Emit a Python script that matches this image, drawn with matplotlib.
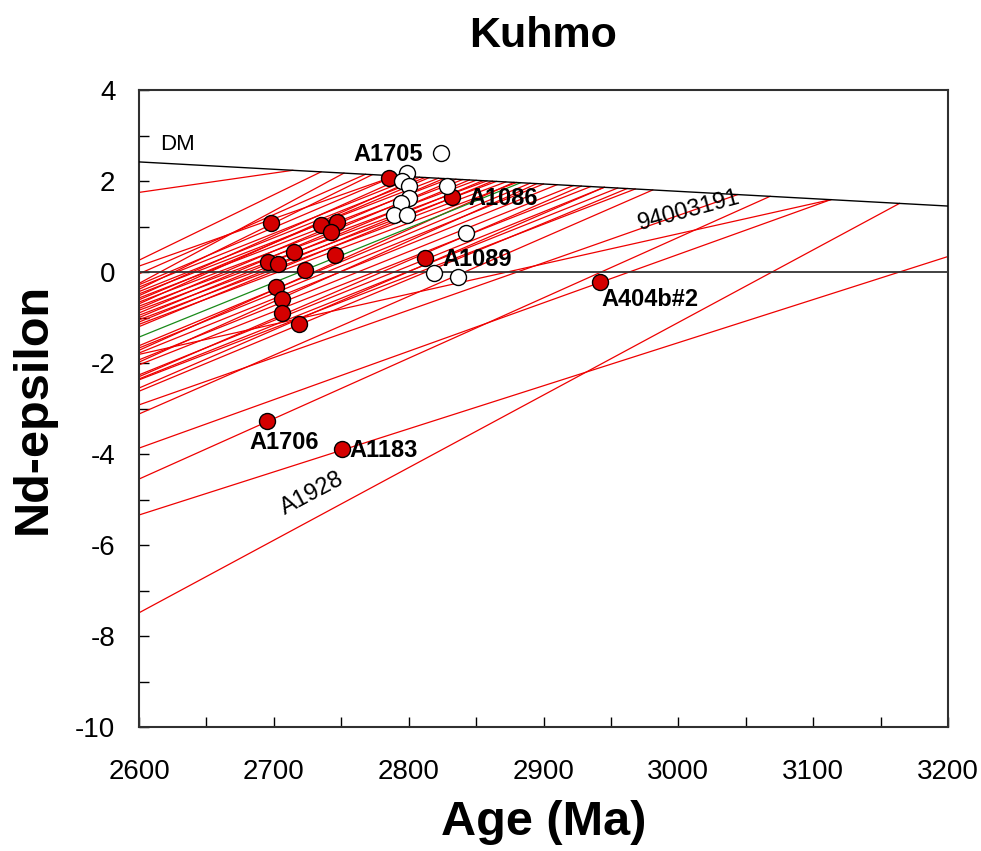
import numpy as np
import matplotlib
matplotlib.use('Agg')
import matplotlib.pyplot as plt
from matplotlib.ticker import MultipleLocator

plt.rcParams['font.family'] = ['Liberation Sans', 'DejaVu Sans']
plt.rcParams['axes.unicode_minus'] = False

# depleted mantle reference line
dm_age = [2600, 3200]
dm_eps = [2.42, 1.45]

# evolution lines: epsilon at 2600 Ma and model age where they meet DM
line_e0 = [1.75, 0.26, 0.13, -0.04, -0.25, -0.28, -0.33, -0.38, -0.43, -0.48,
           -0.52, -0.57, -0.61, -0.66, -0.70, -0.75, -0.80, -0.84, -0.90, -0.95,
           -1.00, -1.05, -1.10, -1.15, -1.20, -1.62, -1.67, -1.72, -1.78, -1.81,
           -1.93, -1.98, -2.04, -2.26, -2.30, -2.35, -2.37, -2.55, -2.62, -2.92,
           -3.12, -3.87, -4.55, -5.34, -7.49]
line_tdm = [2714, 2735, 2790, 2768, 2752, 2790, 2805, 2773, 2812, 2822,
            2798, 2830, 2815, 2840, 2808, 2850, 2826, 2858, 2835, 2865,
            2845, 2872, 2855, 2880, 2862, 2890, 2900, 2878, 2910, 3113,
            2922, 2895, 2935, 2945, 2928, 2955, 2968, 2945, 2962, 3044,
            2981, 3113, 3068, 3300, 3164]
# single green line
green_e0 = -1.43
green_tdm = 2883

# samples
red_age = [2785.4, 2832.4, 2697.8, 2734.8, 2747.2, 2742.2, 2715.0, 2745.2, 2695.3, 2703.2,
           2723.0, 2811.9, 2701.5, 2706.0, 2705.7, 2718.3, 2942.0, 2695.0, 2750.5]
red_eps = [2.07, 1.64, 1.08, 1.03, 1.11, 0.89, 0.45, 0.37, 0.23, 0.18,
           0.04, 0.30, -0.34, -0.59, -0.89, -1.15, -0.22, -3.28, -3.88]
white_age = [2823.7, 2798.5, 2795.3, 2800.2, 2828.6, 2800.2, 2794.0, 2789.1, 2799.0,
             2842.2, 2818.8, 2836.6]
white_eps = [2.62, 2.18, 2.01, 1.88, 1.88, 1.62, 1.52, 1.25, 1.25, 0.85, -0.03, -0.12]

labels = ['A1705', 'A1086', 'A1089', 'A404b#2', 'A1706', 'A1183']
label_age = [2784.7, 2870.4, 2850.6, 2978.8, 2707.8, 2781.5]
label_eps = [2.59, 1.62, 0.27, -0.60, -3.74, -3.92]


def dm(t):
    return dm_eps[0] + (dm_eps[1] - dm_eps[0]) * (t - dm_age[0]) / (dm_age[1] - dm_age[0])


fig = plt.figure(figsize=(9.81, 8.51), dpi=100)
ax = fig.add_axes([0.1417, 0.1457, 0.8247, 0.7485])

for e0, t1 in zip(line_e0, line_tdm):
    ax.plot([2600, t1], [e0, dm(t1)], color='#ee0000', lw=0.9, zorder=2)

ax.plot([2600, green_tdm], [green_e0, dm(green_tdm)], color='#1a8a1a', lw=0.9, zorder=2)

ax.plot(dm_age, dm_eps, color='black', lw=1.0, zorder=3)
ax.axhline(0, color='#333333', lw=1.3, zorder=3)

ax.plot(red_age, red_eps, 'o', ms=11.5, mfc='#d40000', mec='black', mew=1.0, zorder=4)
ax.plot(white_age, white_eps, 'o', ms=11.5, mfc='white', mec='black', mew=1.0, zorder=5)

for s, a, e in zip(labels, label_age, label_eps):
    ax.text(a, e, s, fontsize=17, fontweight='bold', ha='center', va='center', zorder=6)

ax.text(2628.7, 2.8, 'DM', fontsize=16, ha='center', va='center')
ax.text(3007.7, 1.36, '94003191', fontsize=17, ha='center', va='center', rotation=15)
ax.text(2728.5, -4.88, 'A1928', fontsize=17, ha='center', va='center', rotation=28)

ax.set_xlim(2600, 3200)
ax.set_ylim(-10, 4)
ax.xaxis.set_major_locator(MultipleLocator(100))
ax.xaxis.set_minor_locator(MultipleLocator(50))
ax.yaxis.set_major_locator(MultipleLocator(2))
ax.yaxis.set_minor_locator(MultipleLocator(1))
ax.tick_params(which='both', direction='in', length=7, width=1, color='black')
ax.tick_params(axis='x', which='major', labelsize=20, pad=23)
ax.tick_params(axis='y', which='major', labelsize=20, pad=17)
for sp in ax.spines.values():
    sp.set_linewidth(1.5)
    sp.set_color('#303030')

ax.set_title('Kuhmo', fontsize=31, fontweight='bold', pad=31)
ax.set_xlabel('Age (Ma)', fontsize=35, fontweight='bold', labelpad=11)
ax.set_ylabel('Nd-epsilon', fontsize=35, fontweight='bold', labelpad=14)

fig.savefig('out.png', dpi=100)
